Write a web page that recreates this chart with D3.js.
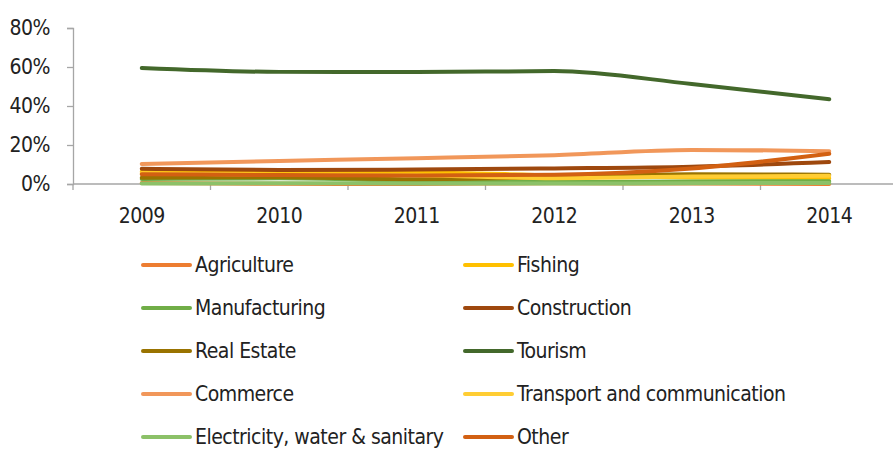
<!DOCTYPE html>
<html><head><meta charset="utf-8">
<script src="https://cdn.jsdelivr.net/npm/d3@7/dist/d3.min.js"></script>
<style>body{margin:0;background:#fff;} svg{display:block;}</style>
</head><body>
<svg id="c" width="893" height="451"></svg>
<script>
const years = ["2009","2010","2011","2012","2013","2014"];
const yTicks = [0, 20, 40, 60, 80];
const seriesNames = ["Agriculture","Fishing","Manufacturing","Construction","Real Estate","Tourism","Commerce","Transport and communication","Electricity, water & sanitary","Other"];
const seriesColors = ["#ED7D31","#FFC000","#70AD47","#9E480E","#997300","#43682B","#F1975A","#FFCD33","#8CC168","#D26012"];
const agriculture   = [0.5, 0.1, 0.0, 0.4, 0.2, 0.0];
const fishing       = [6.3, 5.8, 5.9, 4.5, 3.3, 3.0];
const manufacturing = [2.6, 2.9, 1.6, 1.0, 1.3, 1.4];
const construction  = [7.8, 7.2, 7.4, 8.0, 8.9, 11.3];
const realEstate    = [3.2, 3.5, 2.5, 3.5, 5.0, 4.7];
const tourism       = [59.5, 57.5, 57.4, 57.9, 51.3, 43.5];
const commerce      = [10.3, 11.8, 13.2, 14.8, 17.5, 16.8];
const transport     = [5.5, 4.8, 4.5, 3.0, 3.8, 4.2];
const electricity   = [0.2, 0.4, 0.3, 0.2, 0.4, 0.5];
const other         = [5.0, 4.6, 4.3, 4.8, 8.0, 15.5];
const seriesValues = [agriculture, fishing, manufacturing, construction, realEstate, tourism, commerce, transport, electricity, other];

const svg = d3.select("#c");
const font = "'Liberation Sans Narrow','DejaVu Sans Condensed',sans-serif";
const axisColor = "#a6a6a6";
const x = d3.scaleBand().domain(years).range([73, 898]);
const y = d3.scaleLinear().domain([0, 80]).range([184, 28]);

// y axis
const gy = svg.append("g").attr("transform", "translate(73,0)")
  .call(d3.axisLeft(y).tickValues(yTicks).tickSize(6).tickPadding(17).tickFormat(d => d + "%"));
gy.select(".domain").attr("stroke", axisColor).attr("stroke-width", 1.3);
gy.selectAll(".tick line").attr("stroke", axisColor).attr("stroke-width", 1.3);
gy.selectAll(".tick text").attr("font-family", font).attr("font-size", 21).attr("letter-spacing", "-0.5px").attr("fill", "#222");

// x axis
svg.append("line").attr("x1", 73).attr("x2", 893).attr("y1", y(0)).attr("y2", y(0))
  .attr("stroke", axisColor).attr("stroke-width", 1.3);
const bounds = years.map(d => x(d)).concat([x(years[years.length-1]) + x.bandwidth()]);
svg.selectAll(".xt").data(bounds).enter().append("line")
  .attr("x1", d => d).attr("x2", d => d).attr("y1", y(0)).attr("y2", y(0) + 6)
  .attr("stroke", axisColor).attr("stroke-width", 1.3);
svg.selectAll(".xl").data(years).enter().append("text")
  .attr("x", d => x(d) + x.bandwidth() / 2).attr("y", 223)
  .attr("text-anchor", "middle").attr("font-family", font).attr("font-size", 21).attr("letter-spacing", "-0.5px").attr("fill", "#222")
  .text(d => d);

// lines
const line = d3.line()
  .x((d, i) => x(years[i]) + x.bandwidth() / 2)
  .y(d => y(d))
  .curve(d3.curveMonotoneX);
seriesValues.forEach((vals, k) => {
  svg.append("path").attr("d", line(vals)).attr("fill", "none")
    .attr("stroke", seriesColors[k]).attr("stroke-width", 4).attr("stroke-linecap", "round");
});

// legend
const colX = [143, 465];
const rowY0 = 265, rowDy = 43;
seriesNames.forEach((name, k) => {
  const cx = colX[k % 2], cy = rowY0 + Math.floor(k / 2) * rowDy;
  svg.append("line").attr("x1", cx).attr("x2", cx + 47).attr("y1", cy).attr("y2", cy)
    .attr("stroke", seriesColors[k]).attr("stroke-width", 4).attr("stroke-linecap", "round");
  svg.append("text").attr("x", cx + 52).attr("y", cy + 7)
    .attr("font-family", font).attr("font-size", 21).attr("letter-spacing", "-0.5px").attr("fill", "#222").text(name);
});
</script>
</body></html>
